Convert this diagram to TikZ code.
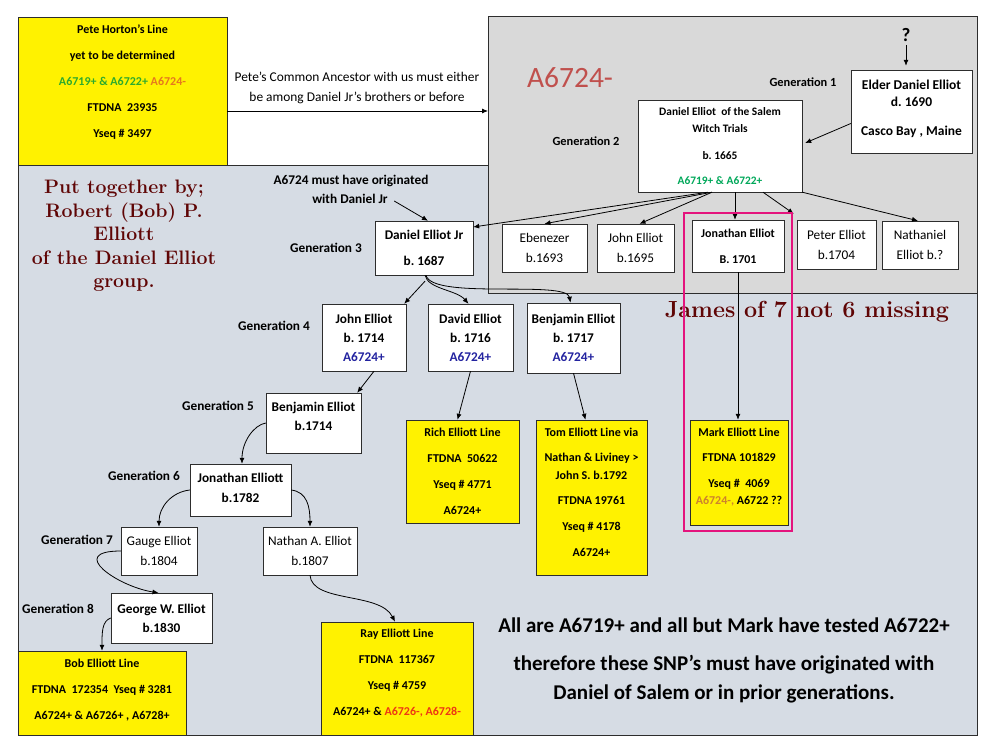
\documentclass[tikz,border=0pt]{standalone}
\usepackage{fontspec}
\newfontfamily\calibri{Carlito}
\usetikzlibrary{arrows.meta}
\frenchspacing

\definecolor{panelblue}{RGB}{214,220,228}
\definecolor{panelgray}{RGB}{217,217,217}
\definecolor{boxedge}{RGB}{45,45,45}
\definecolor{petegreen}{RGB}{45,170,45}
\definecolor{salemgreen}{RGB}{0,168,90}
\definecolor{snporange}{RGB}{230,120,30}
\definecolor{markorange}{RGB}{205,130,45}
\definecolor{snpred}{RGB}{238,55,20}
\definecolor{snpblue}{RGB}{35,35,160}
\definecolor{bigred}{RGB}{192,80,77}
\definecolor{oldmaroon}{RGB}{95,5,5}
\definecolor{framepink}{RGB}{228,20,125}

\tikzstyle{person} = [rectangle, draw=boxedge, fill=white, align=center,
    inner sep=0pt, font=\calibri\bfseries\fontsize{13.3}{19}\selectfont]
\tikzstyle{personlt} = [rectangle, draw=boxedge, fill=white, align=center,
    inner sep=0pt, font=\calibri\fontsize{13.3}{20}\selectfont]
\tikzstyle{dnaline} = [rectangle, draw=boxedge, fill=yellow, align=center,
    inner sep=0pt, font=\calibri\bfseries\fontsize{12}{26}\selectfont]
\tikzstyle{genlabel} = [font=\calibri\bfseries\fontsize{13.3}{16}\selectfont]
\tikzstyle{oldtype} = [text=oldmaroon, align=center]
\tikzstyle{descent} = [-{Latex[length=6pt,width=5pt]}, line width=0.8pt]

\begin{document}
\begin{tikzpicture}[x=1pt, y=-1pt]
	\useasboundingbox (0,0) rectangle (991,749);
	% panels
	\draw [boxedge, fill=panelblue] (18,165) rectangle (977,735);
	\draw [boxedge, fill=panelgray] (488,16) rectangle (977,293);
	\coordinate (grayedge) at (488,111);
	%
	\node [font=\calibri\fontsize{29.5}{30}\selectfont, text=bigred] (nosnp) at (570,78) {A6724-};
	\node [font=\calibri\bfseries\fontsize{19}{20}\selectfont] (unknown) at (906,35) {?};
	\node [oldtype, font=\bfseries\fontsize{19.5}{23.5}\selectfont] (credit) at (124,236)
		{Put together by;\\Robert (Bob) P.\\Elliott\\of the Daniel Elliot\\group.};
	\node [oldtype, font=\bfseries\fontsize{23.3}{24}\selectfont] (missing) at (807,312) {James of 7 not 6 missing};
	%
	\node [genlabel, font=\calibri\bfseries\fontsize{12.4}{16}\selectfont] (gena) at (803,82) {Generation 1};
	\node [genlabel, font=\calibri\bfseries\fontsize{12.4}{16}\selectfont] (genb) at (586,141) {Generation 2};
	\node [genlabel] (genc) at (326,248) {Generation 3};
	\node [genlabel] (gend) at (274,326) {Generation 4};
	\node [genlabel] (gene) at (218,406) {Generation 5};
	\node [genlabel] (genf) at (144,476) {Generation 6};
	\node [genlabel] (geng) at (77,540) {Generation 7};
	\node [genlabel] (genh) at (58,609) {Generation 8};
	\node [genlabel] (notea) at (351,181) {A6724 must have originated};
	\node [genlabel] (noteb) at (350,199) {with Daniel Jr};
	\node [font=\calibri\fontsize{13.4}{20}\selectfont, align=center] (petenote) at (357,88)
		{Pete’s Common Ancestor with us must either\\be among Daniel Jr’s brothers or before};
	\node [font=\calibri\bfseries\fontsize{21}{29}\selectfont, align=center] (summary) at (724,660)
		{All are A6719+ and all but Mark have tested A6722+\\[9pt]therefore these SNP’s must have originated with\\Daniel of Salem or in prior generations.};
	%
	\node [dnaline, minimum width=209, minimum height=148] (pete) at (122.5,91)
		{Pete Horton’s Line\\yet to be determined\\\textcolor{petegreen}{A6719+ \& A6722+} \textcolor{snporange}{A6724-}\\FTDNA\ \ 23935\\Yseq \# 3497\\[-7pt]\mbox{}};
	%
	\node [person, minimum width=121, minimum height=83, font=\calibri\bfseries\fontsize{13.5}{17}\selectfont] (elder) at (911.5,111.5)
		{Elder Daniel Elliot\\d. 1690\\[12pt]Casco Bay , Maine\\[-10pt]\mbox{}};
	\node [person, minimum width=164, minimum height=92, font=\calibri\bfseries\fontsize{11.4}{12}\selectfont] (salem) at (720,146)
		{Daniel Elliot\ \ of the Salem\\[5pt]Witch Trials\\[15pt]b. 1665\\[13pt]\textcolor{salemgreen}{A6719+ \& A6722+}};
	%
	\node [person, minimum width=98, minimum height=54] (danjr) at (424,248) {Daniel Elliot Jr\\[7pt]b. 1687};
	\node [personlt, minimum width=85, minimum height=48] (ebenezer) at (544.5,248) {Ebenezer\\b.1693};
	\node [personlt, minimum width=77, minimum height=48] (johnb) at (635.5,248) {John Elliot\\b.1695};
	\node [person, minimum width=92, minimum height=52, font=\calibri\bfseries\fontsize{12}{26}\selectfont] (jonathanb) at (738,246)
		{Jonathan Elliot\\B. 1701};
	\node [personlt, minimum width=79, minimum height=49] (peter) at (836.5,244.5) {Peter Elliot\\b.1704};
	\node [personlt, minimum width=76, minimum height=48] (nathaniel) at (920,245) {Nathaniel\\Elliot b.?};
	%
	\node [person, minimum width=84, minimum height=67] (john) at (364,337.5)
		{John Elliot\\b. 1714\\\textcolor{snpblue}{A6724+}};
	\node [person, minimum width=85, minimum height=67] (david) at (470.5,337.5)
		{David Elliot\\b. 1716\\\textcolor{snpblue}{A6724+}};
	\node [person, minimum width=93, minimum height=70] (benjamin) at (573.5,338)
		{Benjamin Elliot\\b. 1717\\\textcolor{snpblue}{A6724+}};
	%
	\node [person, minimum width=95, minimum height=60] (benjaminb) at (313.5,423) {Benjamin Elliot\\b.1714\\[-6pt]\mbox{}};
	\node [person, minimum width=101, minimum height=52] (jonathan) at (240.5,490) {Jonathan Elliott\\[1pt]b.1782\\[-14pt]\mbox{}};
	\node [personlt, minimum width=76, minimum height=48] (gauge) at (159,551) {Gauge Elliot\\b.1804};
	\node [personlt, minimum width=94, minimum height=48] (nathan) at (310,551) {Nathan A. Elliot\\b.1807};
	\node [person, minimum width=101, minimum height=50] (george) at (161.5,618) {George W. Elliot\\b.1830};
	%
	\node [dnaline, minimum width=113, minimum height=103] (rich) at (462.5,471.5)
		{Rich Elliott Line\\FTDNA\ \ 50622\\Yseq \# 4771\\A6724+};
	\node [dnaline, minimum width=111, minimum height=155] (tom) at (591.5,497.5)
		{Tom Elliott Line via\\[-1pt]Nathan \& Liviney >\\[-8pt]John S. b.1792\\[-1pt]FTDNA 19761\\Yseq \# 4178\\A6724+\\[-16pt]\mbox{}};
	\node [dnaline, minimum width=98, minimum height=105] (mark) at (739,472.5)
		{Mark Elliott Line\\[-1pt]FTDNA 101829\\Yseq \#\ \ 4069\\[-9pt]\textcolor{markorange}{A6724-,} A6722 ??\\[-14pt]\mbox{}};
	\node [dnaline, minimum width=168, minimum height=84] (bob) at (102,693)
		{Bob Elliott Line\\FTDNA\ \ 172354\ \ Yseq \# 3281\\A6724+ \& A6726+ , A6728+\\[-18pt]\mbox{}};
	\node [dnaline, minimum width=152, minimum height=113] (ray) at (397,678.5)
		{Ray Elliott Line\\FTDNA\ \ 117367\\Yseq \# 4759\\A6724+ \& \textcolor{snpred}{A6726-, A6728-}\\[-14pt]\mbox{}};
	%
	\draw [descent] (pete.east |- grayedge) -- (grayedge);
	\draw [descent] (unknown.south) -- ([yshift=4pt]unknown.south |- elder.north);
	\draw [descent] ([yshift=-12pt]elder.west) -- ([xshift=3pt,yshift=3pt]salem.east);
	\draw [descent] ([xshift=-12pt]salem.south) -- ([yshift=21pt]danjr.east);
	\draw [descent] ([xshift=-8pt]salem.south) -- (ebenezer.north);
	\draw [descent] ([xshift=-8pt]salem.south) -- ([xshift=4pt]johnb.north);
	\draw [descent] ([xshift=15pt]salem.south) -- ([xshift=-3pt]jonathanb.north);
	\draw [descent] ([xshift=43pt]salem.south) -- ([xshift=-3pt,yshift=6pt]peter.north west);
	\draw [descent] (salem.south east) -- ([xshift=-2pt]nathaniel.north);
	\draw [descent] ([xshift=3pt,yshift=-2pt]noteb.east) -- ([xshift=4pt]danjr.north);
	%
	\draw [descent] ([xshift=1pt,yshift=-6pt]danjr.south) -- ([xshift=-2pt]john.north east);
	\draw [descent] ([xshift=1pt]danjr.south) .. controls +(3,14) and +(-12,-14) .. ([xshift=-2pt]david.north);
	\draw [descent] ([xshift=2pt]danjr.south) .. controls +(6,25) and +(-4,-23) .. ([xshift=-3pt]benjamin.north);
	\draw [descent] ([xshift=10pt]john.south) -- ([xshift=-4pt]benjaminb.north east);
	\draw [descent] (david.south) -- ([xshift=-5pt]rich.north);
	\draw [descent] (benjamin.south) -- ([xshift=-6pt]tom.north);
	\draw [descent] (jonathanb.south) -- (jonathanb.south |- mark.north);
	%
	\draw [descent] (benjaminb.west) .. controls +(-12,2) and +(0,-22) .. ([xshift=1.5pt]jonathan.north);
	\draw [descent] (jonathan.west) .. controls +(-18,2) and +(0,-20) .. (gauge.north);
	\draw [descent] (jonathan.east) .. controls +(16,2) and +(0,-20) .. (nathan.north);
	\draw [descent] (gauge.west) .. controls +(-55,0) and +(-40,-6) .. ([xshift=-3pt]george.north);
	\draw [descent] (george.west) .. controls +(-9,3) and +(0,-18) .. (bob.north);
	\draw [descent] (nathan.south) .. controls +(2,28) and +(-15,-30) .. ([xshift=-2pt]ray.north);
	%
	\draw [framepink, line width=2.2pt] (684,213) rectangle (792,531);
\end{tikzpicture}
\end{document}
